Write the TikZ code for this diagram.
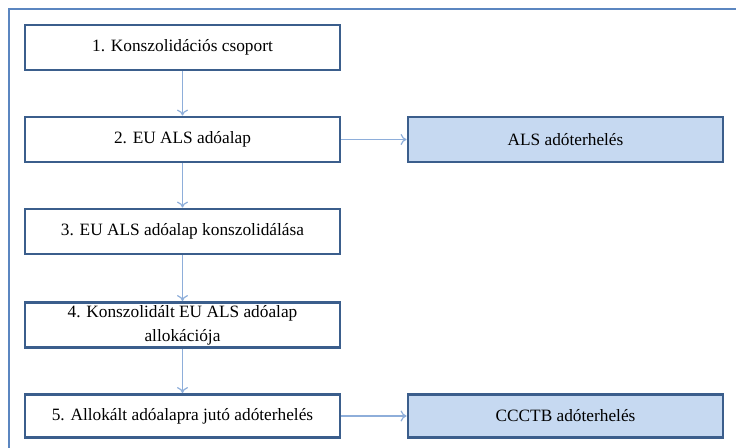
\documentclass[tikz,border=0pt]{standalone}
\usepackage{fontspec}
\setmainfont{Liberation Serif}
\usetikzlibrary{arrows.meta}
\definecolor{boxline}{HTML}{3B5E8C}
\definecolor{boxfill}{HTML}{C6D9F1}
\definecolor{arrowcol}{HTML}{8EAEDA}
\definecolor{framecol}{HTML}{5B86C0}
\begin{document}
\begin{tikzpicture}[x=1pt,y=1pt,
  stepbox/.style={draw=boxline, line width=2.8pt, fill=white, minimum width=315pt,
    minimum height=45pt, inner sep=2pt, align=center, font=\fontsize{17.3}{24}\selectfont},
  resultbox/.style={stepbox, fill=boxfill},
  flow/.style={draw=arrowcol, line width=1.2pt, -{To[length=6pt,width=11pt]}}]
  \useasboundingbox (0,0) rectangle (736,447);
  % outer frame, running past the right and bottom edges
  \begin{scope}
    \clip (0,0) rectangle (736,447);
    \draw[framecol, line width=2pt] (9,-10) -- (9,438) -- (760,438);
  \end{scope}
  \node[stepbox] (s1) at (182.5,399.5) {1. Konszolidációs csoport};
  \node[stepbox] (s2) at (182.5,307.5) {2. EU ALS adóalap};
  \node[stepbox] (s3) at (182.5,215.5) {3. EU ALS adóalap konszolidálása};
  \node[stepbox] (s4) at (182.5,122) {4. Konszolidált EU ALS adóalap\\allokációja};
  \node[stepbox, minimum height=43pt] (s5) at (182.5,31) {5. Allokált adóalapra jutó adóterhelés};
  \node[resultbox] (r1) at (565.5,307.5) {ALS adóterhelés};
  \node[resultbox, minimum height=43pt] (r2) at (565.5,31) {CCCTB adóterhelés};
  \draw[flow] (s1) -- (s2);
  \draw[flow] (s2) -- (s3);
  \draw[flow] (s3) -- (s4);
  \draw[flow] (s4) -- (s5);
  \draw[flow] (s2) -- (r1);
  \draw[flow] (s5) -- (r2);
\end{tikzpicture}
\end{document}
